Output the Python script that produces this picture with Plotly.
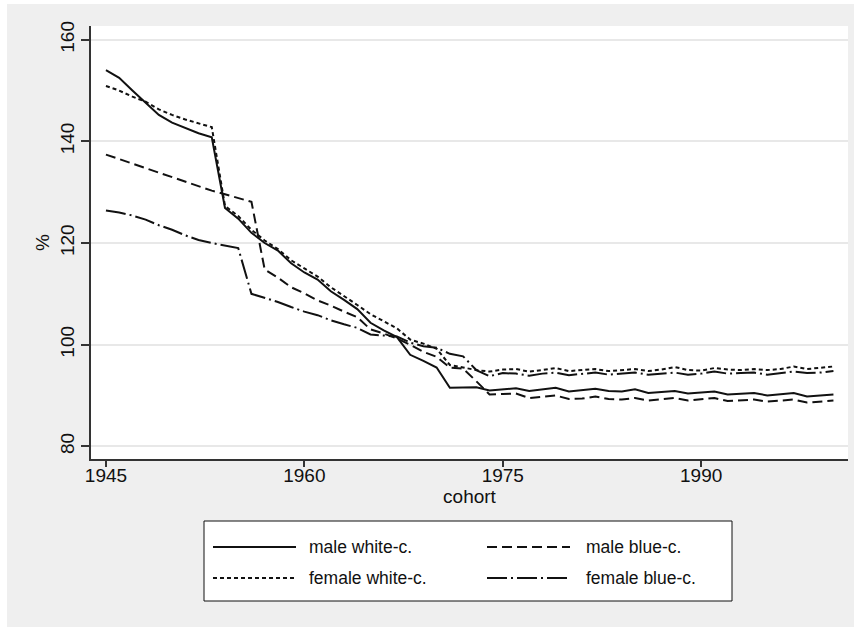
import plotly.graph_objects as go

# Cohorts 1945-2000
cohort = list(range(1945, 2001))

male_white = [
    154.0, 152.5, 150.0, 147.5, 145.2, 143.7, 142.6, 141.6, 140.8, 126.9,
    124.8, 122.0, 120.0, 118.5, 116.0, 114.2, 112.8, 110.5, 108.8, 107.0,
    104.3, 102.8, 101.5, 98.0, 96.8, 95.5, 91.5, 91.6, 91.6, 91.0,
    91.2, 91.4, 90.9, 91.2, 91.5, 90.8, 91.0, 91.3, 90.9, 90.8,
    91.2, 90.5, 90.7, 90.9, 90.4, 90.6, 90.8, 90.2, 90.3, 90.5,
    90.0, 90.2, 90.5, 89.8, 90.0, 90.2,
]
male_blue = [
    137.4, 136.5, 135.6, 134.7, 133.8, 132.9, 132.0, 131.2, 130.3, 129.6,
    128.9, 128.1, 114.8, 113.2, 111.3, 110.1, 108.7, 107.7, 106.5, 105.4,
    103.0, 102.2, 101.2, 100.0, 98.6, 97.6, 95.5, 95.3, 92.8, 90.2,
    90.3, 90.4, 89.5, 89.8, 90.0, 89.3, 89.4, 89.8, 89.3, 89.2,
    89.5, 89.0, 89.3, 89.5, 89.0, 89.2, 89.5, 88.9, 89.0, 89.2,
    88.8, 89.0, 89.2, 88.6, 88.8, 89.0,
]
female_white = [
    150.9, 150.0, 148.8, 147.8, 146.3, 145.2, 144.3, 143.6, 142.8, 127.3,
    125.3, 122.6, 120.5, 118.8, 116.6, 115.0, 113.4, 111.3, 109.6, 107.8,
    106.0, 104.6, 103.2, 101.0, 100.2, 99.2, 96.0, 95.5, 95.0, 94.7,
    95.1, 95.2, 94.7, 95.0, 95.4, 94.8, 95.0, 95.2, 94.8, 95.0,
    95.2, 94.8, 95.1, 95.6, 95.0, 94.9, 95.4, 95.1, 95.0, 95.2,
    95.0, 95.2, 95.7, 95.2, 95.4, 95.7,
]
female_blue = [
    126.4, 126.0, 125.4, 124.6, 123.5, 122.6, 121.5, 120.6, 120.0, 119.5,
    119.0, 110.0, 109.2, 108.4, 107.4, 106.5, 105.8, 104.8, 104.0, 103.3,
    102.0, 101.8, 101.6, 100.4, 99.7, 99.4, 98.2, 97.7, 95.0, 93.8,
    94.4, 94.3, 93.9, 94.3, 94.5, 94.0, 94.3, 94.5, 94.1, 94.3,
    94.5, 94.1, 94.3, 94.5, 94.1, 94.3, 94.7, 94.3, 94.4, 94.5,
    94.1, 94.4, 94.7, 94.4, 94.5, 94.8,
]

series_names = ["male white-c.", "male blue-c.", "female white-c.", "female blue-c."]
y_ticks = [80, 100, 120, 140, 160]
x_ticks = [1945, 1960, 1975, 1990]

INK = "#111111"
BG = "#EFEFEF"
FONT = "Liberation Sans, Arial, sans-serif"
dashes = {
    "male white-c.": "solid",
    "male blue-c.": "10px,5px",
    "female white-c.": "4px,3px",
    "female blue-c.": "20px,4px,2px,4px",
}
values = {
    "male white-c.": male_white,
    "male blue-c.": male_blue,
    "female white-c.": female_white,
    "female blue-c.": female_blue,
}

W, H = 854, 627
ML, MR, MT, MB = 91, 6, 26, 168
PW, PH = W - ML - MR, H - MT - MB


def px_x(p):
    return (p - ML) / PW


def px_y(p):
    return (H - MB - p) / PH


fig = go.Figure()
for name in series_names:
    fig.add_trace(go.Scatter(
        x=cohort, y=values[name], mode="lines", name=name,
        line=dict(color=INK, width=2, dash=dashes[name]),
        showlegend=False,
    ))

shapes = [
    # white margin strips around the grey outer region
    dict(type="rect", xref="paper", yref="paper", layer="below",
         x0=px_x(0), x1=px_x(7), y0=px_y(H), y1=px_y(0),
         fillcolor="white", line=dict(width=0)),
    dict(type="rect", xref="paper", yref="paper", layer="below",
         x0=px_x(0), x1=px_x(W), y0=px_y(4), y1=px_y(0),
         fillcolor="white", line=dict(width=0)),
    # legend frame
    dict(type="rect", xref="paper", yref="paper",
         x0=px_x(204), x1=px_x(732), y0=px_y(601), y1=px_y(521),
         fillcolor="white", line=dict(color=INK, width=1)),
]
annotations = []
legend_slots = [
    ("male white-c.", 213, 296, 307, 547),
    ("male blue-c.", 487, 570, 584, 547),
    ("female white-c.", 213, 296, 307, 578),
    ("female blue-c.", 487, 570, 584, 578),
]
for name, lx0, lx1, tx, ty in legend_slots:
    shapes.append(dict(
        type="line", xref="paper", yref="paper",
        x0=px_x(lx0), x1=px_x(lx1), y0=px_y(ty), y1=px_y(ty),
        line=dict(color=INK, width=2, dash=dashes[name]),
    ))
    annotations.append(dict(
        text=name, xref="paper", yref="paper", x=px_x(tx), y=px_y(ty),
        xanchor="left", yanchor="middle", showarrow=False,
        font=dict(family=FONT, size=17.5, color=INK),
    ))

fig.update_layout(
    width=W, height=H,
    margin=dict(l=ML, r=MR, t=MT, b=MB),
    paper_bgcolor=BG, plot_bgcolor="white",
    font=dict(family=FONT, size=19, color=INK),
    shapes=shapes, annotations=annotations,
    xaxis=dict(
        range=[1943.87, 2001.1], tickmode="array", tickvals=x_ticks,
        showgrid=False, zeroline=False,
        showline=True, linecolor="#333333", linewidth=1.5,
        ticks="outside", ticklen=6, tickwidth=1.5, tickcolor="#333333",
        ticklabelstandoff=-8,
        title=dict(text="cohort", standoff=4, font=dict(size=19)),
    ),
    yaxis=dict(
        range=[77.5, 162.7], tickmode="array", tickvals=y_ticks,
        tickangle=-90,
        showgrid=True, gridcolor="#E8E8E8", gridwidth=1.5, zeroline=False,
        showline=True, linecolor="#333333", linewidth=1.5,
        ticks="outside", ticklen=8, tickwidth=1.5, tickcolor="#333333",
        title=dict(text="%", standoff=2, font=dict(size=19)),
    ),
)

fig.write_html("out.html")
